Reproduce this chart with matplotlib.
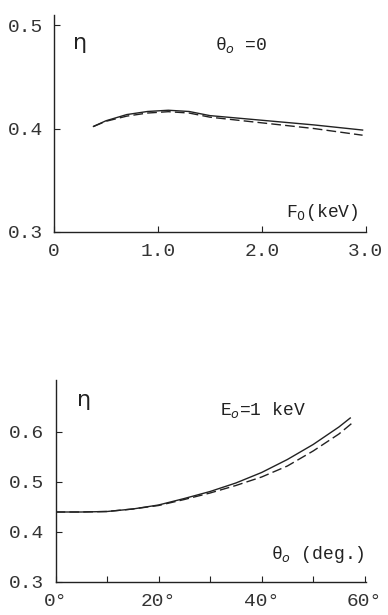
import matplotlib
matplotlib.use("Agg")
import matplotlib.pyplot as plt

plt.rcParams['font.family'] = ['Liberation Mono', 'DejaVu Sans']

# top panel: eta vs E0 (keV), theta0 = 0
e0 = [0.38, 0.5, 0.7, 0.9, 1.1, 1.3, 1.5, 2.0, 2.5, 2.97]
eta_e_solid = [0.402, 0.4075, 0.4135, 0.4165, 0.4177, 0.4165, 0.4125, 0.408, 0.4035, 0.3985]
eta_e_dash = [0.402, 0.407, 0.412, 0.415, 0.4163, 0.415, 0.411, 0.4055, 0.400, 0.3935]
top_xticks = [0, 1.0, 2.0, 3.0]
top_xlabels = ['0', '1.0', '2.0', '3.0']
top_yticks = [0.3, 0.4, 0.5]
top_ylabels = ['0.3', '0.4', '0.5']

# bottom panel: eta vs theta0 (deg), E0 = 1 keV
th = [0, 5, 10, 15, 20, 25, 30, 35, 40, 45, 50, 55, 57.2]
eta_t_solid = [0.440, 0.440, 0.441, 0.446, 0.454, 0.467, 0.481, 0.498, 0.519, 0.545, 0.575, 0.610, 0.628]
th_d = [0, 5, 10, 15, 20, 25, 30, 35, 40, 45, 50, 55, 57.7]
eta_t_dash = [0.440, 0.440, 0.441, 0.446, 0.453, 0.465, 0.478, 0.493, 0.510, 0.532, 0.562, 0.596, 0.619]
bot_xticks = [0, 10, 20, 30, 40, 50, 60]
bot_xlabels = ['0°', '', '20°', '', '40°', '', '60°']
bot_yticks = [0.3, 0.4, 0.5, 0.6]
bot_ylabels = ['0.3', '0.4', '0.5', '0.6']

ink = '#222222'
fig = plt.figure(figsize=(3.88, 6.15), dpi=100)

ax1 = fig.add_axes([54/388, 1-231.7/615, 311.7/388, 216.7/615])
ax1.plot(e0, eta_e_solid, color=ink, lw=1.0)
ax1.plot(e0, eta_e_dash, color=ink, lw=1.0, dashes=(7, 3))
ax1.set_xlim(0, 3.0)
ax1.set_ylim(0.3, 0.51)
ax1.set_xticks(top_xticks)
ax1.set_xticklabels(top_xlabels)
ax1.set_yticks(top_yticks)
ax1.set_yticklabels(top_ylabels)
ax1.text(0.083, 0.87, 'η', transform=ax1.transAxes, fontsize=16, ha='center', va='center', color=ink, family='DejaVu Sans')
ax1.text(0.6, 0.86, 'θ$_o$ =0', transform=ax1.transAxes, fontsize=13, ha='center', va='center', color=ink)
ax1.text(0.86, 0.09, 'F$_0$(keV)', transform=ax1.transAxes, fontsize=13, ha='center', va='center', color=ink)

ax2 = fig.add_axes([55.5/388, 1-582/615, 310.2/388, 202/615])
ax2.plot(th, eta_t_solid, color=ink, lw=1.0)
ax2.plot(th_d, eta_t_dash, color=ink, lw=1.0, dashes=(7, 3))
ax2.set_xlim(0, 60.2)
ax2.set_ylim(0.3, 0.704)
ax2.set_xticks(bot_xticks)
ax2.set_xticklabels(bot_xlabels)
ax2.set_yticks(bot_yticks)
ax2.set_yticklabels(bot_ylabels)
ax2.text(0.092, 0.90, 'η', transform=ax2.transAxes, fontsize=16, ha='center', va='center', color=ink, family='DejaVu Sans')
ax2.text(0.67, 0.85, 'E$_o$=1 keV', transform=ax2.transAxes, fontsize=13, ha='center', va='center', color=ink)
ax2.text(0.846, 0.134, 'θ$_o$ (deg.)', transform=ax2.transAxes, fontsize=13, ha='center', va='center', color=ink)

for ax in (ax1, ax2):
    for s in ('top', 'right'):
        ax.spines[s].set_visible(False)
    for s in ('left', 'bottom'):
        ax.spines[s].set_color(ink)
        ax.spines[s].set_linewidth(1.0)
    ax.tick_params(direction='in', length=4, width=0.8, color=ink,
                   labelsize=14, labelcolor='#333333', pad=8)

fig.savefig('out.png', dpi=100, facecolor='white')
